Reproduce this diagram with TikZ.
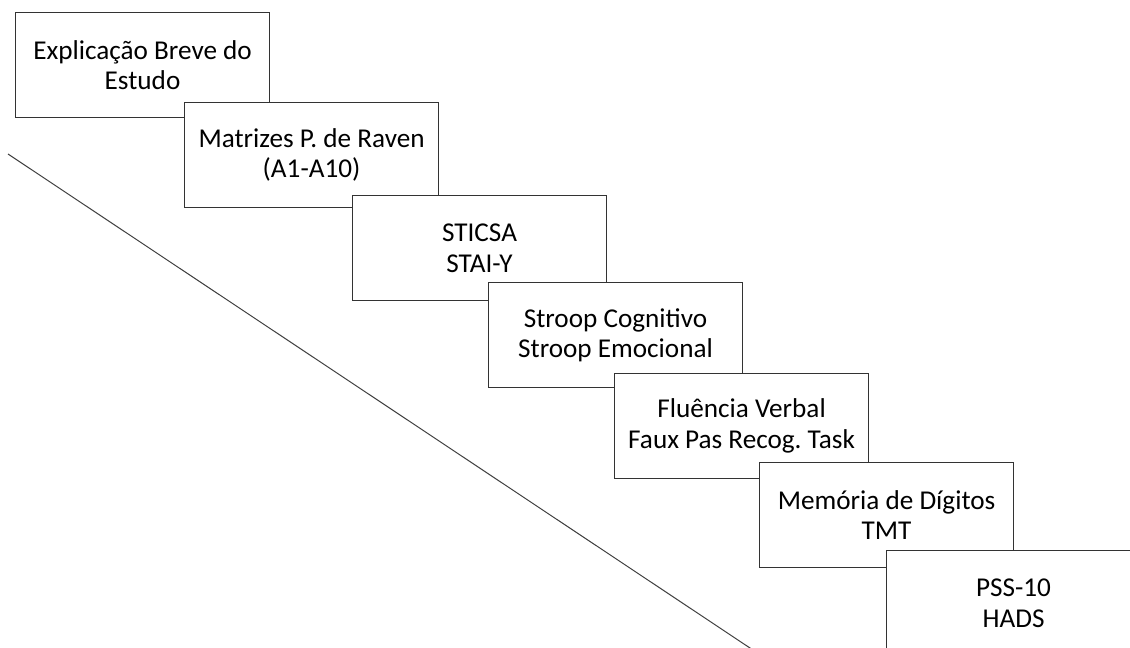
\documentclass[tikz,border=0pt]{standalone}
\usepackage{fontspec}
\setmainfont{Carlito}
\usetikzlibrary{arrows.meta}
\frenchspacing

\begin{document}
\begin{tikzpicture}[x=1pt,y=-1pt,
  stagebox/.style={draw=black!80, line width=1.1pt, fill=white,
    rectangle, anchor=north west, inner sep=0pt,
    minimum width=254pt, minimum height=105pt,
    align=center, font=\fontsize{27.2}{30.5}\selectfont},
  timeline/.style={draw=black!75, line width=1pt,
    -{Stealth[length=9pt,width=7pt]}}]
  \useasboundingbox (0,0) rectangle (1130,648);
  \clip (0,0) rectangle (1130,648);
  \fill[white] (0,0) rectangle (1130,648);

  % diagonal time axis
  \coordinate (tstart) at (8,154);
  \coordinate (tend) at (762,656);
  \draw[timeline] (tstart) -- (tend);

  % staircase of stages, each drawn over the previous one
  \node[stagebox] (s1) at (15,12)  {Explicação Breve do\\Estudo};
  \node[stagebox] (s2) at (184,102) {Matrizes P. de Raven\\(A1-A10)};
  \node[stagebox] (s3) at (352,195) {STICSA\\STAI-Y};
  \node[stagebox] (s4) at (488,282) {Stroop Cognitivo\\Stroop Emocional};
  \node[stagebox] (s5) at (614,373) {Fluência Verbal\\Faux Pas Recog. Task};
  \node[stagebox] (s6) at (759,462) {Memória de Dígitos\\TMT};
  \node[stagebox] (s7) at (886,550) {PSS-10\\HADS};
\end{tikzpicture}
\end{document}
